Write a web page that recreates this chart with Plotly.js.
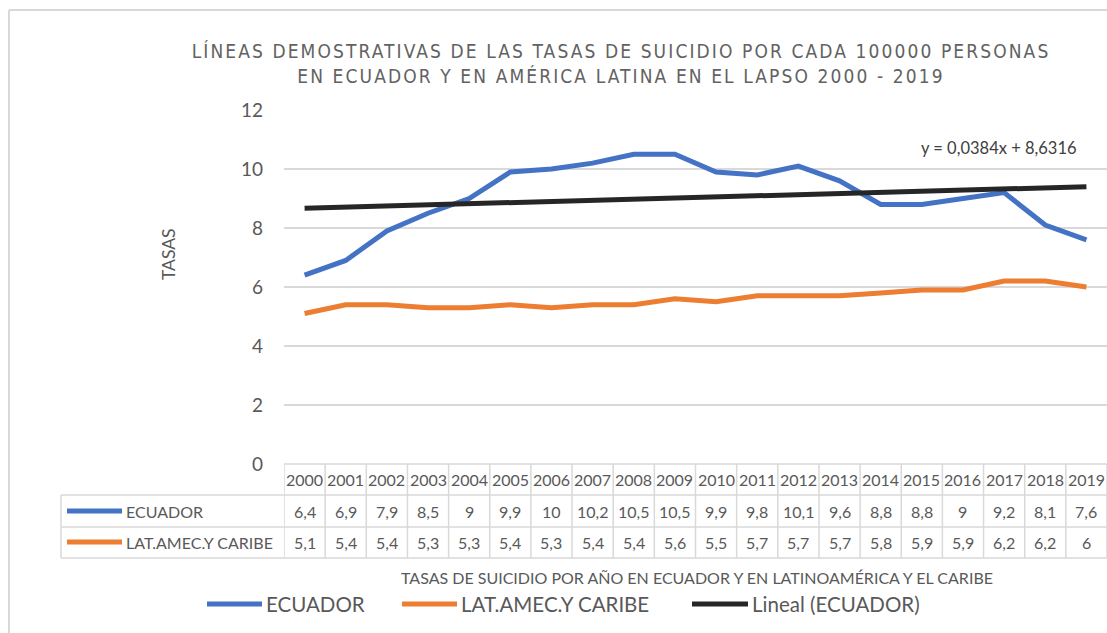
<!DOCTYPE html>
<html>
<head>
<meta charset="utf-8">
<script src="https://cdn.plot.ly/plotly-3.0.1.min.js"></script>
<style>
  html, body { margin: 0; padding: 0; background: #ffffff; }
  #chart { width: 1107px; height: 633px; }
  .gtitle { letter-spacing: 2.1px; }
</style>
</head>
<body>
<div id="chart"></div>
<script>
// ---- Data ----
const years = ['2000','2001','2002','2003','2004','2005','2006','2007','2008','2009',
               '2010','2011','2012','2013','2014','2015','2016','2017','2018','2019'];
const ecuador = [6.4, 6.9, 7.9, 8.5, 9, 9.9, 10, 10.2, 10.5, 10.5,
                 9.9, 9.8, 10.1, 9.6, 8.8, 8.8, 9, 9.2, 8.1, 7.6];
const latam = [5.1, 5.4, 5.4, 5.3, 5.3, 5.4, 5.3, 5.4, 5.4, 5.6,
               5.5, 5.7, 5.7, 5.7, 5.8, 5.9, 5.9, 6.2, 6.2, 6];
const trendSlope = 0.0384;
const trendIntercept = 8.6316;
const yTicks = [0, 2, 4, 6, 8, 10, 12];
const seriesNames = ['ECUADOR', 'LAT.AMEC.Y CARIBE', 'Lineal (ECUADOR)'];
const titleLines = ['LÍNEAS DEMOSTRATIVAS DE LAS TASAS DE SUICIDIO POR CADA 100000 PERSONAS',
                    'EN ECUADOR Y EN AMÉRICA LATINA EN EL LAPSO 2000 - 2019'];
const xTitle = 'TASAS DE SUICIDIO POR AÑO EN ECUADOR Y EN LATINOAMÉRICA Y EL CARIBE';
const yTitle = 'TASAS';

// ---- Styling ----
const W = 1107, H = 633;
const px = x => x / W;
const py = y => 1 - y / H;
const FONT = 'Lato, Carlito, Calibri, "Open Sans", sans-serif';
const TXT = '#595959';
const GRID = '#d9d9d9';
const colors = ['#4472C4', '#ED7D31', '#262626'];
const fmt = v => String(v).replace('.', ',');

// trendline from the displayed Excel equation (x = 1..n)
const trend = years.map((_, i) => trendSlope * (i + 1) + trendIntercept);

const traces = [
  { x: years, y: ecuador, type: 'scatter', mode: 'lines', name: seriesNames[0],
    line: { color: colors[0], width: 5 }, showlegend: false },
  { x: years, y: latam, type: 'scatter', mode: 'lines', name: seriesNames[1],
    line: { color: colors[1], width: 5 }, showlegend: false },
  { x: years, y: trend, type: 'scatter', mode: 'lines', name: seriesNames[2],
    line: { color: colors[2], width: 5 }, showlegend: false }
];

const shapes = [];
const annotations = [];

// chart border (top & left visible)
shapes.push({ type: 'line', xref: 'paper', yref: 'paper', x0: px(9), x1: 1, y0: py(10), y1: py(10),
              line: { color: GRID, width: 2 } });
shapes.push({ type: 'line', xref: 'paper', yref: 'paper', x0: px(9), x1: px(9), y0: py(10), y1: 0,
              line: { color: GRID, width: 2 } });

// data table grid
const tl = { color: GRID, width: 1.5 };
shapes.push({ type: 'line', xref: 'paper', yref: 'paper', x0: px(284), x1: 1, y0: py(464), y1: py(464), line: tl });
[495, 527, 558].forEach(yy => {
  shapes.push({ type: 'line', xref: 'paper', yref: 'paper', x0: px(61), x1: 1, y0: py(yy), y1: py(yy), line: tl });
});
shapes.push({ type: 'line', xref: 'paper', yref: 'paper', x0: px(61), x1: px(61), y0: py(495), y1: py(558), line: tl });
for (let i = 0; i <= years.length; i++) {
  shapes.push({ type: 'line', xref: 'x', yref: 'paper', x0: i - 0.5, x1: i - 0.5, y0: py(464), y1: py(558), line: tl });
}

// table content
const rowsY = [511, 542];
const rowData = [ecuador, latam];
years.forEach((yr, i) => {
  annotations.push({ xref: 'x', yref: 'paper', x: i, y: py(480), text: yr, showarrow: false,
                     xanchor: 'center', yanchor: 'middle', font: { family: FONT, size: 16, color: TXT } });
  rowData.forEach((arr, r) => {
    annotations.push({ xref: 'x', yref: 'paper', x: i, y: py(rowsY[r]), text: fmt(arr[i]), showarrow: false,
                       xanchor: 'center', yanchor: 'middle', font: { family: FONT, size: 16, color: TXT } });
  });
});
rowData.forEach((arr, r) => {
  shapes.push({ type: 'line', xref: 'paper', yref: 'paper', x0: px(67), x1: px(122), y0: py(rowsY[r]), y1: py(rowsY[r]),
                line: { color: colors[r], width: 5 } });
  annotations.push({ xref: 'paper', yref: 'paper', x: px(124), y: py(rowsY[r]), text: seriesNames[r], showarrow: false,
                     xanchor: 'left', yanchor: 'middle', font: { family: FONT, size: 16, color: TXT } });
});

// x-axis title (below table)
annotations.push({ xref: 'paper', yref: 'paper', x: px(697), y: py(577), text: xTitle, showarrow: false,
                   xanchor: 'center', yanchor: 'middle', font: { family: FONT, size: 16, color: TXT } });

// y-axis title
annotations.push({ xref: 'paper', yref: 'paper', x: px(168), y: py(254), text: yTitle, showarrow: false, textangle: -90,
                   xanchor: 'center', yanchor: 'middle', font: { family: FONT, size: 17.5, color: TXT } });

// trendline equation
annotations.push({ xref: 'paper', yref: 'paper', x: px(999), y: py(148),
                   text: 'y = ' + trendSlope.toFixed(4).replace('.', ',') + 'x + ' + trendIntercept.toFixed(4).replace('.', ','),
                   showarrow: false, xanchor: 'center', yanchor: 'middle', font: { family: FONT, size: 16.5, color: '#404040' } });

// legend (bottom)
const legKeys = [[207, 262], [402, 457], [692, 748]];
legKeys.forEach((k, j) => {
  shapes.push({ type: 'line', xref: 'paper', yref: 'paper', x0: px(k[0]), x1: px(k[1]), y0: py(604), y1: py(604),
                line: { color: colors[j], width: 5 } });
  annotations.push({ xref: 'paper', yref: 'paper', x: px(k[1] + 2), y: py(604), text: seriesNames[j], showarrow: false,
                     xanchor: 'left', yanchor: 'middle', font: { family: FONT, size: 20.5, color: TXT } });
});

const layout = {
  width: W, height: H, autosize: false,
  margin: { l: 0, r: 0, t: 0, b: 0, pad: 0 },
  paper_bgcolor: '#ffffff', plot_bgcolor: '#ffffff',
  title: { text: titleLines.join('<br>'), x: px(621), xanchor: 'center', xref: 'paper',
           y: py(58), yanchor: 'middle', yref: 'container',
           font: { family: '"DejaVu Sans Condensed", "Liberation Sans Narrow", sans-serif', size: 19, color: '#626262' } },
  xaxis: { type: 'category', domain: [px(284), 1], range: [-0.5, years.length - 0.5],
           showgrid: false, showticklabels: false, showline: false, zeroline: false, ticks: '', fixedrange: true },
  yaxis: { domain: [py(464), py(110)], range: [0, 12], tickvals: yTicks, ticktext: yTicks.map(String),
           showgrid: true, gridcolor: GRID, gridwidth: 1.5, zeroline: false, showline: false, ticks: '',
           ticklabelstandoff: 20, tickfont: { family: FONT, size: 19, color: TXT }, fixedrange: true },
  shapes: shapes,
  annotations: annotations,
  showlegend: false,
  hovermode: false
};

Plotly.newPlot('chart', traces, layout, { displayModeBar: false, staticPlot: true });
</script>
</body>
</html>
